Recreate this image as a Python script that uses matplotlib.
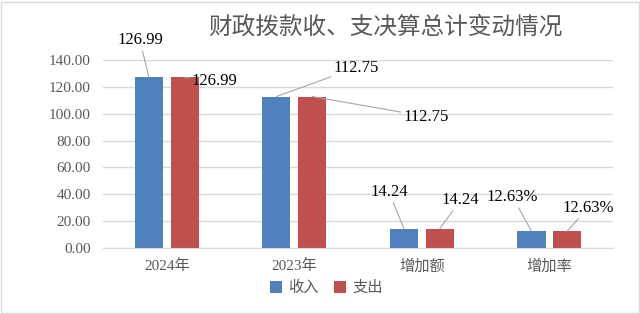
import matplotlib.pyplot as plt
import numpy as np
from matplotlib.patches import Rectangle

plt.rcParams['font.family'] = ['Liberation Serif', 'Noto Sans CJK SC', 'DejaVu Sans']

# data
categories = ['2024年', '2023年', '增加额', '增加率']
income = [126.99, 112.75, 14.24, 12.63]
expense = [126.99, 112.75, 14.24, 12.63]
suffix = ['', '', '', '%']

# label offsets (pixels) for income / expense labels
off_in = [(-9, 37), (80, 29), (-15, 37), (-19, 34)]
off_ex = [(30, -4), (114, -20), (21, 29), (21, 23)]

blue = '#4F81BD'
red = '#C0504D'
grey = '#595959'

fig = plt.figure(figsize=(6.4, 3.14), dpi=100)
ax = fig.add_axes([0.161, 0.2102, 0.797, 0.599])

x = np.arange(len(categories))
w = 0.22
b1 = ax.bar(x - 0.14, income, w, color=blue, label='收入')
b2 = ax.bar(x + 0.14, expense, w, color=red, label='支出')

ax.set_ylim(0, 140)
ax.set_xlim(-0.5, len(categories) - 0.5)
ax.set_yticks(np.arange(0, 141, 20))
ax.set_yticklabels(['%.2f' % v for v in np.arange(0, 141, 20)])
ax.set_xticks(x)
ax.set_xticklabels(categories)
ax.tick_params(length=0, colors=grey, labelsize=11)
ax.tick_params(axis='y', pad=9)
ax.tick_params(axis='x', labelsize=11, pad=8)
ax.grid(axis='y', color='#D9D9D9', linewidth=1)
ax.set_axisbelow(True)
for s in ['top', 'right', 'left']:
    ax.spines[s].set_visible(False)
ax.spines['bottom'].set_color('#D9D9D9')

k = 0.72  # px -> pt
for bars, vals, offs in [(b1, income, off_in), (b2, expense, off_ex)]:
    for i, (bar, v) in enumerate(zip(bars, vals)):
        dx, dy = offs[i]
        ax.annotate('%.2f%s' % (v, suffix[i]),
                    xy=(bar.get_x() + bar.get_width() / 2, v),
                    xytext=(dx * k, dy * k), textcoords='offset points',
                    ha='center', va='center', fontsize=12, color='black',
                    arrowprops=dict(arrowstyle='-', color='#A6A6A6', lw=0.8,
                                    shrinkA=0, shrinkB=0))

fig.text(385 / 640, 1 - 27 / 314, '财政拨款收、支决算总计变动情况',
         ha='center', va='center', fontsize=17, color=grey)

fig.legend(loc='center', bbox_to_anchor=(0.51, 1 - 288 / 314), ncol=2,
           frameon=False, handlelength=0.8, handleheight=0.8,
           handletextpad=0.4, columnspacing=1.0,
           prop={'size': 11}, labelcolor=grey)

fig.patches.append(Rectangle((0.002, 0.004), 0.996, 0.99, transform=fig.transFigure,
                             fill=False, edgecolor='#D9D9D9', linewidth=1))

fig.savefig('out.png', dpi=100)
